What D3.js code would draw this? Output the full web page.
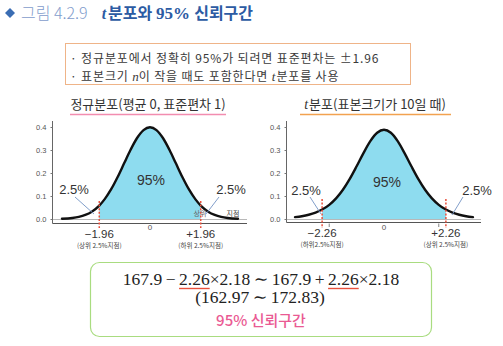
<!DOCTYPE html>
<html>
<head>
<meta charset="utf-8">
<script src="https://cdn.jsdelivr.net/npm/d3@7/dist/d3.min.js"></script>
<style>
  html, body { margin: 0; padding: 0; background: #fff; }
  svg { display: block; }
  svg text { white-space: pre; }
</style>
</head>
<body>
<svg id="chart" width="503" height="346"></svg>
<script>
// ---- data -------------------------------------------------------------
// standard normal density, sampled (x, f(x))
const normalX = [-3.4, -3.0, -2.75, -2.5, -2.25, -1.96, -1.75, -1.5, -1.25, -1.0, -0.75, -0.5, -0.25, 0,
                 0.25, 0.5, 0.75, 1.0, 1.25, 1.5, 1.75, 1.96, 2.25, 2.5, 2.75, 3.0, 3.4];
const normalDensity = [0.0012, 0.0044, 0.0091, 0.0175, 0.0317, 0.0584, 0.0863, 0.1295, 0.1826, 0.2420, 0.3011, 0.3521, 0.3867, 0.3989,
                       0.3867, 0.3521, 0.3011, 0.2420, 0.1826, 0.1295, 0.0863, 0.0584, 0.0317, 0.0175, 0.0091, 0.0044, 0.0012];
// t density with 9 degrees of freedom (sample size 10)
const tX = [-3.25, -3.0, -2.75, -2.5, -2.26, -2.0, -1.75, -1.5, -1.25, -1.0, -0.75, -0.5, -0.25, 0,
            0.25, 0.5, 0.75, 1.0, 1.25, 1.5, 1.75, 2.0, 2.26, 2.5, 2.75, 3.0, 3.25];
const tDensity = [0.0080, 0.0121, 0.0184, 0.0278, 0.0410, 0.0617, 0.0897, 0.1271, 0.1743, 0.2291, 0.2865, 0.3383, 0.3748, 0.3880,
                  0.3748, 0.3383, 0.2865, 0.2291, 0.1743, 0.1271, 0.0897, 0.0617, 0.0410, 0.0278, 0.0184, 0.0121, 0.0080];
const yTicks = [0.0, 0.1, 0.2, 0.3, 0.4];
const normalCrit = 1.96;
const tCrit = 2.26;
const tailPct = "2.5%";
const centerPct = "95%";

// ---- styling ----------------------------------------------------------
const KR = "'Noto Sans CJK KR', 'Noto Sans', sans-serif";
const SERIF = "'Liberation Serif', 'DejaVu Serif', serif";
const SANS = "'Liberation Sans', Arial, sans-serif";
const CYAN = "#8edcef";
const RED = "#e8503c";
const LEADER = "#7393c4";

const svg = d3.select("#chart");
svg.append("rect").attr("width", 503).attr("height", 346).attr("fill", "#fff");

// lay out text runs of mixed fonts one after another
function runs(parent, x, y, segs, anchor) {
  const g = parent.append("g");
  let cx = 0;
  const under = [];
  segs.forEach(s => {
    const t = g.append("text")
      .attr("x", cx).attr("y", 0)
      .attr("xml:space", "preserve")
      .attr("font-family", s.family || KR)
      .attr("font-size", s.size || 12)
      .attr("font-weight", s.weight || "normal")
      .attr("font-style", s.style || "normal")
      .attr("letter-spacing", s.ls || 0)
      .attr("fill", s.fill || "#333")
      .text(s.t);
    const w = t.node().getComputedTextLength();
    if (s.underline) under.push({ x0: cx, x1: cx + w, color: s.underline });
    cx += w + (s.gap || 0);
  });
  under.forEach(u => {
    g.append("line").attr("x1", u.x0).attr("x2", u.x1).attr("y1", 3.5).attr("y2", 3.5)
      .attr("stroke", u.color).attr("stroke-width", 1.4);
  });
  const shift = anchor === "middle" ? -cx / 2 : 0;
  g.attr("transform", `translate(${x + shift},${y})`);
  return g;
}

// ---- heading ----------------------------------------------------------
svg.append("path").attr("d", "M10,8 L15,13 L10,18 L5,13 Z").attr("fill", "#3a6db3");
runs(svg, 21, 19, [
  { t: "그림 4.2.9", size: 16, weight: 300, fill: "#7f9ccc", gap: 14 },
  { t: "t", family: SERIF, style: "italic", weight: "bold", size: 16, fill: "#2c5ba3", gap: 2 },
  { t: "분포와 ", size: 16, weight: "bold", fill: "#2c5ba3" },
  { t: "95% ", family: SERIF, size: 17, weight: "bold", fill: "#2c5ba3" },
  { t: "신뢰구간", size: 16, weight: "bold", fill: "#2c5ba3" }
]);

// ---- note box (one two-line text block) --------------------------------
svg.append("rect").attr("x", 65.5).attr("y", 43.5).attr("width", 345).attr("height", 41)
  .attr("fill", "#fff").attr("stroke", "#efb488").attr("stroke-width", 1);
const note = svg.append("text")
  .attr("xml:space", "preserve")
  .attr("font-family", KR).attr("font-size", 12).attr("letter-spacing", 0.85)
  .attr("fill", "#3a3a3a");
note.append("tspan").attr("x", 70).attr("y", 63)
  .text("· 정규분포에서 정확히 95%가 되려면 표준편차는 ±1.96");
const line2 = note.append("tspan").attr("x", 70).attr("y", 80.5);
line2.append("tspan").text("· 표본크기 ");
line2.append("tspan").attr("font-family", SERIF).attr("font-style", "italic").attr("font-size", 13)
  .attr("letter-spacing", 0).text("n");
line2.append("tspan").text("이 작을 때도 포함한다면 ");
line2.append("tspan").attr("font-family", SERIF).attr("font-style", "italic").attr("font-size", 13)
  .attr("letter-spacing", 1).text("t");
line2.append("tspan").text("분포를 사용");

// ---- density panels ---------------------------------------------------
function panel(cfg) {
  const g = svg.append("g");
  const x = d3.scaleLinear().domain(cfg.domain).range(cfg.range);
  const y = d3.scaleLinear().domain([0, 0.4]).range([219, 127]);
  const pts = cfg.xs.map((v, i) => ({ x: v, y: cfg.ys[i] }));
  const inner = pts.filter(p => p.x >= -cfg.crit - 1e-9 && p.x <= cfg.crit + 1e-9);

  // title with coloured underline
  runs(g, cfg.titleX, 109, cfg.title, "middle");
  g.append("line").attr("x1", cfg.ulx[0]).attr("x2", cfg.ulx[1]).attr("y1", 114.5).attr("y2", 114.5)
    .attr("stroke", cfg.ulColor).attr("stroke-width", 1.6);

  // shaded central 95% region
  g.append("path").datum(inner)
    .attr("d", d3.area().x(d => x(d.x)).y0(y(0)).y1(d => y(d.y)).curve(d3.curveMonotoneX))
    .attr("fill", CYAN);

  // zero reference line and axes
  g.append("line").attr("x1", cfg.axisX).attr("x2", cfg.axisEnd).attr("y1", y(0) + 0.5).attr("y2", y(0) + 0.5)
    .attr("stroke", "#b8b8b8").attr("stroke-width", 1);
  g.append("line").attr("x1", cfg.axisX).attr("x2", cfg.axisEnd).attr("y1", cfg.baseY).attr("y2", cfg.baseY)
    .attr("stroke", "#555").attr("stroke-width", 1.1);
  g.append("line").attr("x1", cfg.axisX).attr("x2", cfg.axisX).attr("y1", 121).attr("y2", cfg.baseY)
    .attr("stroke", "#666").attr("stroke-width", 1);

  const ax = g.append("g").attr("transform", `translate(${cfg.axisX},0)`)
    .call(d3.axisLeft(y).tickValues(yTicks).tickFormat(d3.format(".1f")).tickSize(2).tickPadding(4));
  ax.select(".domain").remove();
  ax.selectAll(".tick line").attr("stroke", "#777");
  ax.selectAll(".tick text").attr("font-family", SANS).attr("font-size", 7.5).attr("fill", "#555");

  // density curve
  g.append("path").datum(pts)
    .attr("d", d3.line().x(d => x(d.x)).y(d => y(d.y)).curve(d3.curveMonotoneX))
    .attr("fill", "none").attr("stroke", "#111").attr("stroke-width", 2.4)
    .attr("stroke-linecap", "round");

  // critical value markers
  [-cfg.crit, cfg.crit].forEach(c => {
    g.append("line").attr("x1", x(c)).attr("x2", x(c)).attr("y1", cfg.dashTop).attr("y2", 228)
      .attr("stroke", RED).attr("stroke-width", 1.5).attr("stroke-dasharray", "2,1.6");
  });

  // centre tick label
  g.append("text").attr("x", x(0)).attr("y", cfg.zeroY).attr("text-anchor", "middle")
    .attr("font-family", SANS).attr("font-size", 8).attr("fill", "#555")
    .text("0");

  // critical value labels
  [[-cfg.crit, "\u2212" + cfg.crit.toFixed(2), cfg.subLeft], [cfg.crit, "+" + cfg.crit.toFixed(2), cfg.subRight]]
    .forEach(([c, label, sub]) => {
      g.append("text").attr("x", x(c)).attr("y", cfg.critY).attr("text-anchor", "middle")
        .attr("font-family", SANS).attr("font-size", 11.5).attr("fill", "#333")
        .text(label);
      g.append("text").attr("x", x(c)).attr("y", cfg.critY + 10).attr("text-anchor", "middle")
        .attr("font-family", KR).attr("font-size", 6.5).attr("fill", "#444")
        .text(sub);
    });

  // percentage labels and leaders
  g.append("text").attr("x", x(0) + cfg.midDx).attr("y", cfg.midY).attr("text-anchor", "middle")
    .attr("font-family", SANS).attr("font-size", 14).attr("fill", "#333")
    .text(centerPct);
  cfg.tails.forEach(tl => {
    g.append("text").attr("x", tl.tx).attr("y", tl.ty).attr("text-anchor", "middle")
      .attr("font-family", SANS).attr("font-size", 13).attr("fill", "#333")
      .text(tailPct);
    g.append("line").attr("x1", tl.l[0]).attr("y1", tl.l[1]).attr("x2", tl.l[2]).attr("y2", tl.l[3])
      .attr("stroke", LEADER).attr("stroke-width", 0.9);
  });
  return { g, x, y };
}

const left = panel({
  xs: normalX, ys: normalDensity, crit: normalCrit,
  domain: [-3.4, 3.4], range: [62, 238],
  axisX: 52.5, axisEnd: 247, baseY: 223.5,
  title: [{ t: "정규분포(평균 0, 표준편차 1)", size: 13, fill: "#333" }],
  titleX: 148, ulx: [70, 226], ulColor: "#f28db0",
  dashTop: 201, zeroY: 230, critY: 237.5, midY: 185, midDx: 1,
  subLeft: "(상위 2.5%지점)", subRight: "(하위 2.5%지점)",
  tails: [
    { tx: 74, ty: 194, l: [75, 197, 94, 214] },
    { tx: 231, ty: 194, l: [219, 197, 206, 214] }
  ]
});
// small marginal notes on the right tail
left.g.append("text").attr("x", 200).attr("y", 216).attr("text-anchor", "middle")
  .attr("font-family", KR).attr("font-size", 7).attr("fill", "#666").text("상위");
left.g.append("text").attr("x", 233).attr("y", 216).attr("text-anchor", "middle")
  .attr("font-family", KR).attr("font-size", 7).attr("fill", "#444").text("지점");

const right = panel({
  xs: tX, ys: tDensity, crit: tCrit,
  domain: [-3.25, 3.25], range: [295, 473],
  axisX: 286.5, axisEnd: 481, baseY: 222.5,
  title: [
    { t: "t", family: SERIF, style: "italic", size: 14, fill: "#333", gap: 1 },
    { t: "분포(표본크기가 10일 때)", size: 13, fill: "#333" }
  ],
  titleX: 375, ulx: [300, 451], ulColor: "#f2a250",
  dashTop: 199, zeroY: 229.5, critY: 236.5, midY: 187, midDx: 3,
  subLeft: "(하위2.5%지점)", subRight: "(상위 2.5%지점)",
  tails: [
    { tx: 306, ty: 195, l: [310, 197, 321, 214] },
    { tx: 477, ty: 195, l: [463, 197, 452, 215] }
  ]
});
// minor ticks at ±2 on the t axis
[-2, 2].forEach(v => {
  right.g.append("line").attr("x1", right.x(v)).attr("x2", right.x(v)).attr("y1", 223.5).attr("y2", 227)
    .attr("stroke", "#666").attr("stroke-width", 0.8);
});

// ---- confidence interval box -----------------------------------------
svg.append("rect").attr("x", 90.5).attr("y", 262.5).attr("width", 341).attr("height", 74).attr("rx", 9)
  .attr("fill", "#fff").attr("stroke", "#a9dc80").attr("stroke-width", 1.2);
const F = { family: SERIF, size: 17.5, fill: "#222" };
runs(svg, 261, 285, [
  { ...F, t: "167.9\u2009\u2212\u2009" },
  { ...F, t: "2.26", underline: RED },
  { ...F, t: "\u00d72.18\u2009\u223c\u2009167.9\u2009+\u2009" },
  { ...F, t: "2.26", underline: RED },
  { ...F, t: "\u00d72.18" }
], "middle");
runs(svg, 260, 303, [{ ...F, t: "(162.97\u2009\u223c\u2009172.83)" }], "middle");
runs(svg, 261, 326, [
  { t: "95% 신뢰구간", size: 15, weight: 500, fill: "#ea5a93" }
], "middle");
</script>
</body>
</html>
